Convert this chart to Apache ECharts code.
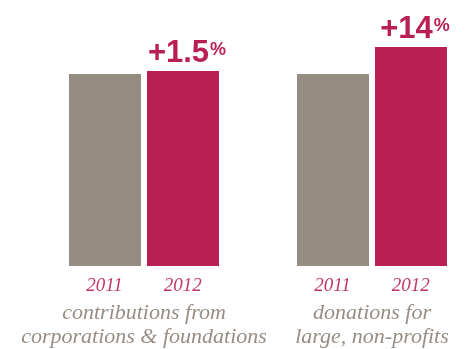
<!DOCTYPE html>
<html>
<head>
<meta charset="utf-8">
<script src="https://cdn.jsdelivr.net/npm/echarts@6/dist/echarts.min.js"></script>
<style>html,body{margin:0;padding:0;background:#fff;}#c{width:466px;height:349px;}</style>
</head>
<body>
<div id="c"></div>
<script>
var groups = ['contributions from\ncorporations & foundations', 'donations for\nlarge, non-profits'];
var years = ['2011', '2012'];
var values2011 = [100, 100];
var values2012 = [101.5, 114];
var changeLabels = ['+1.5', '+14'];

var GRAY = '#968d82';
var RED = '#b91f52';
var YEAR_COLOR = '#c13863';
var TEXT_GRAY = '#968e85';

var chart = echarts.init(document.getElementById('c'), null, {renderer: 'canvas'});
chart.setOption({
  animation: false,
  grid: {left: 30, width: 456, top: 26, height: 240, containLabel: false, outerBoundsMode: 'none'},
  xAxis: {
    type: 'category',
    data: groups,
    axisLine: {show: false},
    axisTick: {show: false},
    axisLabel: {
      interval: 0,
      margin: 5,
      hideOverlap: false,
      formatter: function (v) {
        var lines = v.split('\n').map(function (l) { return '{g|' + l + '}'; });
        return '{y|' + years[0] + '}{s|}{y|' + years[1] + '}\n' + lines.join('\n');
      },
      rich: {
        y: {fontFamily: 'Liberation Serif', fontStyle: 'italic', fontSize: 19, color: YEAR_COLOR, lineHeight: 30},
        s: {width: 41, lineHeight: 30},
        g: {fontFamily: 'Liberation Serif', fontStyle: 'italic', fontSize: 22, color: TEXT_GRAY, lineHeight: 24}
      }
    }
  },
  yAxis: {type: 'value', min: 0, max: 125, show: false},
  series: [
    {
      name: years[0], type: 'bar', data: values2011, barWidth: 72, barGap: '8.33%',
      itemStyle: {color: GRAY}
    },
    {
      name: years[1], type: 'bar', data: values2012, barWidth: 72, barGap: '8.33%',
      itemStyle: {color: RED},
      label: {
        show: true, position: 'top', distance: 6, offset: [4, 0],
        formatter: function (p) { return '{a|' + changeLabels[p.dataIndex] + '}{b|%}'; },
        rich: {
          a: {fontFamily: 'Liberation Sans', fontWeight: 'bold', fontSize: 31, color: RED, lineHeight: 24},
          b: {fontFamily: 'Liberation Sans', fontWeight: 'bold', fontSize: 18, color: RED, lineHeight: 18, verticalAlign: 'top', padding: [0, 0, 0, 1]}
        }
      }
    }
  ]
});
</script>
</body>
</html>
